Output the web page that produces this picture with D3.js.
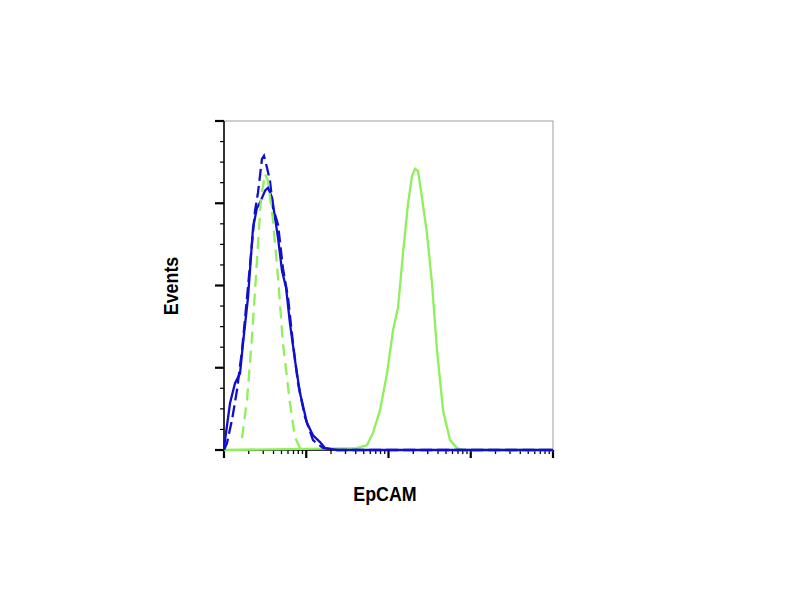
<!DOCTYPE html>
<html><head><meta charset="utf-8">
<script src="https://cdn.jsdelivr.net/npm/d3@7"></script>
<style>body{margin:0;background:#fff}</style></head>
<body><svg id="c" width="791" height="595"></svg>
<script>
// log10 fluorescence positions and event % for each histogram
const blueSolidLog = [0,.073,.134,.195,.231,.292,.353,.401,.438,.499,.535,.584,.620,.657,.705,.754,.802,.863,.924,1.009,1.082,1.167,1.228,1.374,2.5,4];
const blueSolidY   = [.6,14.2,20.3,23.3,32.4,46.4,67.6,73.6,75.2,78.8,79.7,76.7,70.6,64.5,54.5,49.4,38.5,27.3,17.3,8.2,4.5,2.4,.6,0,0,0];
const blueDashLog  = [0,.036,.097,.158,.219,.280,.340,.377,.413,.462,.486,.523,.559,.596,.657,.717,.778,.839,.900,.985,1.082,1.204,1.374,2.5,4];
const blueDashY    = [0,2.1,9.1,18.2,30.3,46.4,62.7,72.7,78.2,88.5,89.4,85.8,81.8,73.6,68.5,55.2,46.4,32.4,20.3,10.0,3.0,.6,0,0,0];
const greenDashLog = [.219,.280,.340,.401,.450,.499,.535,.596,.657,.717,.802,.863,.924,1.009];
const greenDashY   = [3.6,15.2,34.2,57.6,76.7,83.9,81.8,69.7,52.4,32.4,14.2,3.9,.6,0];
const greenLog     = [0,1.617,1.739,1.812,1.897,1.982,2.055,2.116,2.176,2.237,2.286,2.322,2.359,2.407,2.468,2.529,2.590,2.663,2.748,2.833,2.906,4];
const greenY       = [0,.6,1.5,5.2,12.1,23.3,36.4,43.3,59.7,74.8,83.3,85.5,84.8,76.7,65.8,50.6,30.3,12.1,3.0,.6,0,0];

const svg = d3.select("#c");
const L = 224, R = 553, T = 121, B = 450;
const x = d3.scaleLog().domain([1, 1e4]).range([L, R]);
const y = d3.scaleLinear().domain([0, 100]).range([B, T]);

svg.append("rect").attr("x", L).attr("y", T).attr("width", R - L).attr("height", B - T)
  .attr("fill", "none").attr("stroke", "#888").attr("stroke-width", 0.8);

// x ticks
const xt = [];
for (let d = 0; d < 4; d++) for (let k = 1; k < 10; k++) xt.push(Math.pow(10, d) * k);
xt.push(1e4);
const isMajor = d => Math.abs(Math.log10(d) % 1) < 1e-9;
svg.selectAll(".xt").data(xt).join("line")
  .attr("x1", d => x(d)).attr("x2", d => x(d)).attr("y1", B)
  .attr("y2", d => B + (isMajor(d) ? 8 : 4))
  .attr("stroke", "#000").attr("stroke-width", d => isMajor(d) ? 2.2 : 1.3);
// y ticks: 4 major intervals, 3 minor ticks each
svg.selectAll(".yt").data(d3.range(17)).join("line")
  .attr("y1", i => y(i * 6.25)).attr("y2", i => y(i * 6.25)).attr("x1", L)
  .attr("x2", i => L - (i % 4 === 0 ? 9 : 4))
  .attr("stroke", "#000").attr("stroke-width", i => i % 4 === 0 ? 2.2 : 1.2);
svg.append("line").attr("x1", L).attr("x2", L).attr("y1", T).attr("y2", B).attr("stroke", "#000").attr("stroke-width", 1.5);
svg.append("line").attr("x1", L).attr("x2", R).attr("y1", B).attr("y2", B).attr("stroke", "#000").attr("stroke-width", 1.5);

const line = d3.line().x(d => x(Math.pow(10, d[0]))).y(d => y(d[1]));
function draw(lx, ly, color, dash) {
  svg.append("path").datum(lx.map((v, i) => [v, ly[i]]))
    .attr("d", line).attr("fill", "none").attr("stroke", color)
    .attr("stroke-width", 2.3).attr("stroke-dasharray", dash);
}
draw(greenLog, greenY, "#8ef05a", null);
draw(blueSolidLog, blueSolidY, "#1010cc", null);
draw(blueDashLog, blueDashY, "#1010cc", "12,5");
draw(greenDashLog, greenDashY, "#8ef05a", "12,7");

svg.append("text").attr("transform", "translate(385,501) scale(0.85,1)").attr("text-anchor", "middle")
  .attr("font-family", "Liberation Sans, Arial").attr("font-weight", "bold").attr("font-size", 21).text("EpCAM");
svg.append("text").attr("transform", "translate(178,286) rotate(-90) scale(0.85,1)").attr("text-anchor", "middle")
  .attr("font-family", "Liberation Sans, Arial").attr("font-weight", "bold").attr("font-size", 21).text("Events");
</script></body></html>
